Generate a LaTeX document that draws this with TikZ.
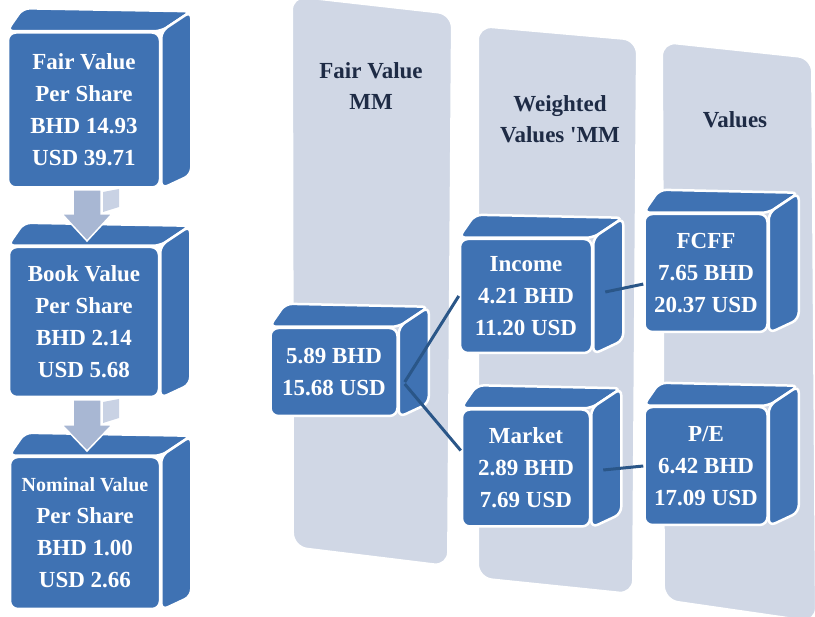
\documentclass[tikz,border=0pt]{standalone}
\usepackage{fontspec}
\setmainfont{Liberation Serif}
\usetikzlibrary{calc}
\definecolor{boxblue}{HTML}{3F72B3}
\definecolor{panelgrey}{HTML}{D0D7E5}
\definecolor{arrowgrey}{HTML}{A8B7D3}
\definecolor{arrowside}{HTML}{C9D2E4}
\definecolor{linkblue}{HTML}{2A5688}
\definecolor{labelnavy}{HTML}{1E2B45}
\tikzset{
  face/.style={fill=boxblue, draw=white, line width=2.5pt, rounded corners=7pt},
  front/.style={face, rounded corners=8pt, align=center, text=white, inner sep=0pt,
    font=\bfseries\fontsize{23}{32}\selectfont},
  panel/.style={fill=panelgrey, draw=white, line width=2pt, rounded corners=14pt},
  paneltext/.style={align=center, text=labelnavy, font=\bfseries\fontsize{23}{31}\selectfont},
  downarrow/.style={fill=arrowgrey, draw=white, line width=1.5pt},
  link/.style={draw=linkblue, line width=3pt}
}
% top and right faces of a box, from its front node
\def\cubefaces(#1){%
  \draw[face] (#1.north west) -- ($(#1.north west)+(16,-23)$) -- ($(#1.north east)+(30,-20)$) -- (#1.north east) -- cycle;
  \draw[face] (#1.north east) -- ($(#1.north east)+(30,-20)$) -- ($(#1.south east)+(30,-14)$) -- (#1.south east) -- cycle;
}

\begin{document}
\begin{tikzpicture}[x=1pt, y=-1pt]
		%%%%% START %%%%%
		\useasboundingbox (0,0) rectangle (815,617);
		
		% columns
		\draw[panel] (292,-4) -- (452,14) -- (448,566) -- (293,547) -- cycle;
		\draw[panel] (478,26) -- (637,40) -- (633,594) -- (478,578) -- cycle;
		\draw[panel] (662,42) -- (812,58) -- (816,622) -- (664,600) -- cycle;
		
		\node[paneltext] (fvlbl) at (371,86) {Fair Value\\MM};
		\node[paneltext] (wvlbl) at (560,119) {Weighted\\Values \textquotesingle MM};
		\node[paneltext] (vlbl) at (735,120) {Values};
		
		% per share stack
		\node[front, minimum width=152, minimum height=155] (fvps) at (84,110) {Fair Value\\Per Share\\BHD 14.93\\USD 39.71};
		\cubefaces(fvps)
		\node[front, minimum width=150, minimum height=150] (bvps) at (84,322) {Book Value\\Per Share\\BHD 2.14\\USD 5.68};
		\cubefaces(bvps)
		\node[front, minimum width=150, minimum height=152] (nvps) at (85,533) {{\fontsize{20}{32}\selectfont Nominal Value}\\Per Share\\BHD 1.00\\USD 2.66};
		\cubefaces(nvps)
		
		\draw[fill=arrowside, draw=none] (103,192) -- (119,189) -- (119,207) -- (103,212) -- cycle;
		\draw[downarrow] (73,190) -- (101,190) -- (101,214) -- (112,214) -- (87,241) -- (62,214) -- (73,214) -- cycle;
		\draw[fill=arrowside, draw=none] (103,402) -- (119,399) -- (119,418) -- (103,423) -- cycle;
		\draw[downarrow] (73,400) -- (101,400) -- (101,425) -- (112,425) -- (87,451) -- (62,425) -- (73,425) -- cycle;
		
		% valuation tree
		\node[front, minimum width=127, minimum height=88] (fvmm) at (334,372) {5.89 BHD\\15.68 USD};
		\cubefaces(fvmm)
		\node[front, minimum width=132, minimum height=114] (inc) at (526,296) {Income\\4.21 BHD\\11.20 USD};
		\cubefaces(inc)
		\node[front, minimum width=128, minimum height=117] (mkt) at (526,468) {Market\\2.89 BHD\\7.69 USD};
		\cubefaces(mkt)
		\node[front, minimum width=123, minimum height=118] (fcff) at (706,273) {FCFF\\7.65 BHD\\20.37 USD};
		\cubefaces(fcff)
		\node[front, minimum width=123, minimum height=118] (pe) at (706,466) {P/E\\6.42 BHD\\17.09 USD};
		\cubefaces(pe)
		
		\draw[link] ($(fvmm.east)+(6,10)$) -- (inc.west);
		\draw[link] ($(fvmm.east)+(6,12)$) -- (mkt.165);
		\draw[link] ($(inc.east)+(12,-4)$) -- (fcff.190);
		\draw[link] ($(mkt.east)+(12,2)$) -- (pe.west);
		
		%%%%% END %%%%%
	\end{tikzpicture}
\end{document}
